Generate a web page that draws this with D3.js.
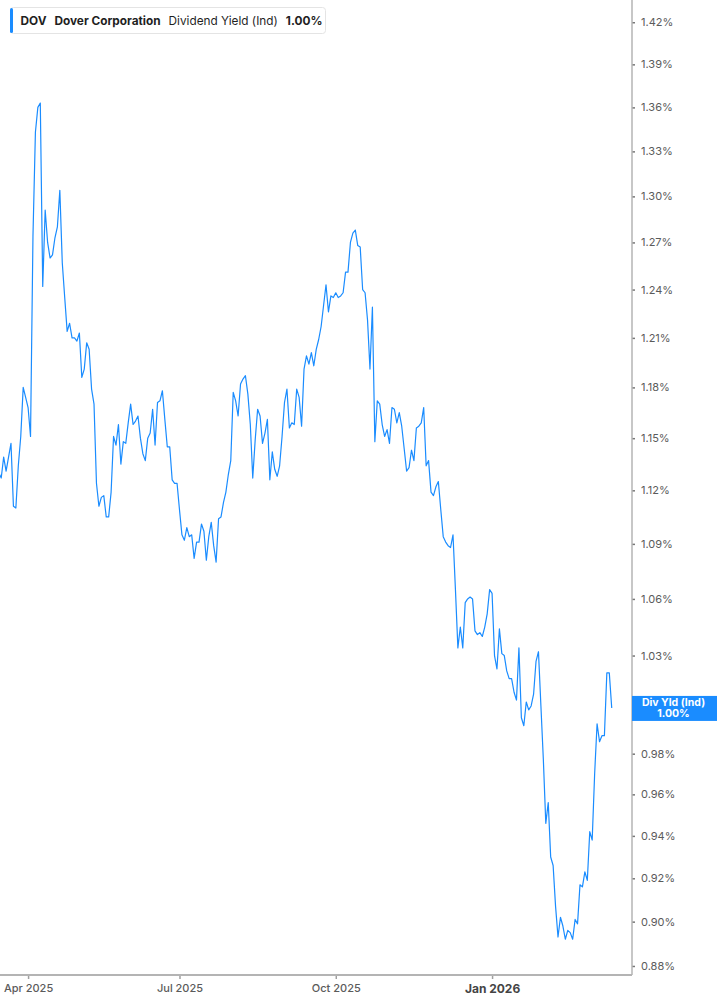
<!DOCTYPE html>
<html>
<head>
<meta charset="utf-8">
<script src="https://cdn.jsdelivr.net/npm/d3@7/dist/d3.min.js"></script>
<style>
  html, body { margin: 0; padding: 0; background: #ffffff; }
  svg { display: block; font-family: Inter, "Noto Sans", sans-serif; }
</style>
</head>
<body>
<svg id="chart" width="717" height="1005"></svg>
<script>
// ---------------- DATA ----------------
const months = ["2025-03","2025-04","2025-05","2025-06","2025-07","2025-08","2025-09",
                "2025-10","2025-11","2025-12","2026-01","2026-02","2026-03"];
const monthTradingDays = [
  [13,14,17,18,19,20,21,24,25,26,27,28,31],
  [1,2,3,4,7,8,9,10,11,14,15,16,17,21,22,23,24,25,28,29,30],
  [1,2,5,6,7,8,9,12,13,14,15,16,19,20,21,22,23,27,28,29,30],
  [2,3,4,5,6,9,10,11,12,13,16,17,18,20,23,24,25,26,27,30],
  [1,2,3,7,8,9,10,11,14,15,16,17,18,21,22,23,24,25,28,29,30,31],
  [1,4,5,6,7,8,11,12,13,14,15,18,19,20,21,22,25,26,27,28,29],
  [2,3,4,5,8,9,10,11,12,15,16,17,18,19,22,23,24,25,26,29,30],
  [1,2,3,6,7,8,9,10,13,14,15,16,17,20,21,22,23,24,27,28,29,30,31],
  [3,4,5,6,7,10,11,12,13,14,17,18,19,20,21,24,25,26,28],
  [1,2,3,4,5,8,9,10,11,12,15,16,17,18,19,22,23,24,26,29,30,31],
  [2,5,6,7,8,9,12,13,14,15,16,20,21,22,23,26,27,28,29,30],
  [2,3,4,5,6,9,10,11,12,13,17,18,19,20,23,24,25,26,27],
  [2,3,4,5,6,9,10,11,12,13,16]
];
// Dividend yield (Ind), percent
const yields = [
  1.132,1.130,1.127,1.139,1.131,1.139,1.147,1.111,1.110,1.134,
  1.151,1.180,1.174,1.168,1.151,1.274,1.343,1.360,1.363,1.242,
  1.291,1.270,1.260,1.262,1.273,1.280,1.304,1.257,1.235,1.214,
  1.219,1.210,1.210,1.208,1.213,1.186,1.191,1.207,1.203,1.179,
  1.170,1.124,1.111,1.116,1.117,1.105,1.105,1.119,1.151,1.146,
  1.158,1.135,1.148,1.147,1.159,1.170,1.158,1.160,1.163,1.150,
  1.141,1.137,1.150,1.153,1.167,1.146,1.171,1.172,1.178,1.161,
  1.145,1.145,1.126,1.124,1.124,1.109,1.095,1.092,1.099,1.094,
  1.095,1.082,1.091,1.091,1.101,1.097,1.081,1.094,1.102,1.089,
  1.080,1.104,1.105,1.113,1.119,1.129,1.137,1.177,1.172,1.163,
  1.182,1.185,1.187,1.176,1.158,1.127,1.149,1.167,1.163,1.147,
  1.153,1.161,1.126,1.142,1.132,1.128,1.134,1.151,1.171,1.179,
  1.156,1.159,1.158,1.179,1.174,1.157,1.191,1.199,1.194,1.201,
  1.193,1.203,1.209,1.217,1.230,1.243,1.226,1.236,1.235,1.238,
  1.235,1.236,1.238,1.251,1.251,1.270,1.276,1.278,1.268,1.267,
  1.240,1.238,1.221,1.191,1.229,1.148,1.172,1.170,1.158,1.151,
  1.155,1.147,1.168,1.167,1.159,1.165,1.157,1.144,1.131,1.133,
  1.143,1.137,1.156,1.157,1.159,1.168,1.134,1.137,1.119,1.117,
  1.122,1.125,1.109,1.094,1.091,1.089,1.088,1.095,1.065,1.034,
  1.045,1.034,1.058,1.060,1.061,1.060,1.043,1.041,1.042,1.040,
  1.045,1.052,1.065,1.063,1.030,1.023,1.044,1.031,1.030,1.022,
  1.018,1.018,1.011,1.007,1.034,0.998,0.994,1.006,1.002,1.004,
  1.010,1.027,1.032,1.004,0.977,0.946,0.956,0.930,0.926,0.907,
  0.893,0.902,0.898,0.892,0.896,0.895,0.892,0.901,0.899,0.917,
  0.916,0.923,0.919,0.942,0.938,0.970,0.995,0.986,0.989,0.989,
  1.021,1.021,1.003
];
const yTickValues = [0.88,0.90,0.92,0.94,0.96,0.98,1.00,1.03,1.06,1.09,1.12,1.15,1.18,1.21,1.24,1.27,1.30,1.33,1.36,1.39,1.42];
const xTickMonths = ["2025-04","2025-07","2025-10","2026-01"];
const xTickLabels = ["Apr 2025","Jul 2025","Oct 2025","Jan 2026"];
const ticker = "DOV", company = "Dover Corporation", metric = "Dividend Yield (Ind)";
const badgeTitle = "Div Yld (Ind)";

// ---------------- BUILD ----------------
const dates = [];
months.forEach((m, k) => monthTradingDays[k].forEach(d => dates.push(m + "-" + String(d).padStart(2, "0"))));
const data = dates.map((d, i) => ({ i, date: d, v: yields[i] }));
const last = data[data.length - 1];

const plotRight = 632, plotBottom = 975;
const blue = "#1a8cff";

const svg = d3.select("#chart");
svg.append("rect").attr("width", 717).attr("height", 1005).attr("fill", "#fff");

const x = d3.scaleLinear().domain([1.5, 260.3]).range([0, plotRight]);
const y = d3.scaleLog().domain([0.87598, 1.4361]).range([plotBottom, 0]);

svg.append("defs").append("clipPath").attr("id", "clip")
  .append("rect").attr("x", 0).attr("y", 0).attr("width", plotRight).attr("height", plotBottom);

// line
const line = d3.line().x(d => x(d.i)).y(d => y(d.v));
svg.append("path")
  .datum(data)
  .attr("clip-path", "url(#clip)")
  .attr("fill", "none")
  .attr("stroke", blue)
  .attr("stroke-width", 1.2)
  .attr("stroke-linejoin", "round")
  .attr("d", line);

// y axis (right); the tick under the last-value badge is covered by it
const yAxis = d3.axisRight(y).tickValues(yTickValues)
  .tickFormat(d => Math.abs(y(d) - y(last.v)) < 14 ? "" : d.toFixed(2) + "%").tickSize(3).tickPadding(6);
const gy = svg.append("g").attr("transform", `translate(${plotRight},0)`).call(yAxis);
gy.select(".domain").remove();
gy.selectAll(".tick line").attr("stroke", "#777").attr("stroke-width", 1.5);
gy.selectAll(".tick text").attr("fill", "#5b5b5b").attr("font-size", 11).attr("font-family", "Inter, sans-serif");
svg.append("line").attr("x1", plotRight).attr("x2", plotRight).attr("y1", 0).attr("y2", plotBottom)
  .attr("stroke", "#b4b4b4").attr("stroke-width", 1.5);

// x axis (bottom)
const xTickIdx = xTickMonths.map(m => dates.findIndex(d => d.startsWith(m)));
const xAxis = d3.axisBottom(x).tickValues(xTickIdx)
  .tickFormat((d, k) => xTickLabels[k]).tickSize(4).tickPadding(5);
const gx = svg.append("g").attr("transform", `translate(0,${plotBottom})`).call(xAxis);
gx.select(".domain").remove();
gx.selectAll(".tick line").attr("stroke", "#a0a0a0").attr("stroke-width", 1.5);
gx.selectAll(".tick text")
  .attr("fill", (d, k) => xTickLabels[k].startsWith("Jan") ? "#444" : "#5b5b5b")
  .attr("font-size", (d, k) => xTickLabels[k].startsWith("Jan") ? 12 : 11)
  .attr("font-weight", (d, k) => xTickLabels[k].startsWith("Jan") ? 700 : 500)
  .attr("font-family", "Inter, sans-serif");
svg.append("line").attr("x1", 0).attr("x2", plotRight).attr("y1", plotBottom).attr("y2", plotBottom)
  .attr("stroke", "#b4b4b4").attr("stroke-width", 2);

// last value badge
const by = y(last.v);
const badge = svg.append("g");
badge.append("rect").attr("x", plotRight).attr("y", by - 12).attr("width", 717 - plotRight).attr("height", 25)
  .attr("fill", blue);
badge.append("text").attr("x", (plotRight + 717) / 2 - 1).attr("y", by - 2)
  .attr("text-anchor", "middle").attr("fill", "#fff").attr("font-size", 10.5).attr("font-weight", 700)
  .attr("font-family", "Inter, sans-serif").text(badgeTitle);
badge.append("text").attr("x", (plotRight + 717) / 2 - 1).attr("y", by + 9.5)
  .attr("text-anchor", "middle").attr("fill", "#fff").attr("font-size", 10.5).attr("font-weight", 700)
  .attr("font-family", "Inter, sans-serif").text(last.v.toFixed(2) + "%");

// header legend
const hdr = svg.append("g");
hdr.append("rect").attr("x", 10.5).attr("y", 7.5).attr("width", 315).attr("height", 26).attr("rx", 3)
  .attr("fill", "#fff").attr("stroke", "#e4e4e4");
hdr.append("rect").attr("x", 10).attr("y", 8).attr("width", 3).attr("height", 25).attr("rx", 1.5).attr("fill", blue);
const hParts = [
  { t: ticker, w: 700 },
  { t: company, w: 700 },
  { t: metric, w: 400 },
  { t: last.v.toFixed(2) + "%", w: 700 }
];
let hx = 20.5;
hParts.forEach(p => {
  const t = hdr.append("text").attr("x", hx).attr("y", 25)
    .attr("font-size", 11.8).attr("font-weight", p.w).attr("fill", "#1f1f1f")
    .attr("font-family", "Inter, sans-serif").text(p.t);
  hx += t.node().getComputedTextLength() + 8;
});
</script>
</body>
</html>
